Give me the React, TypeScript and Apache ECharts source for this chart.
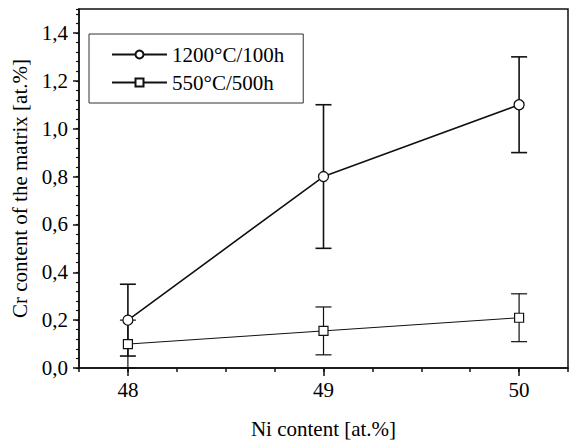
import React, { useEffect, useRef } from "react";
import * as echarts from "echarts";

const niContent = [48, 49, 50];
const seriesNames = ["1200°C/100h", "550°C/500h"];
const cr1200 = [0.2, 0.8, 1.1];
const cr1200Err = [0.15, 0.3, 0.2];
const cr550 = [0.1, 0.155, 0.21];
const cr550Err = [0.1, 0.1, 0.1];
const xTickLabels = [48, 49, 50];

const FONT = "'Liberation Serif', 'Times New Roman', serif";

export default function App() {
  const ref = useRef<HTMLDivElement>(null);
  useEffect(() => {
    document.body.style.margin = "0";
    const chart = echarts.init(ref.current!, undefined, { renderer: "svg" });
    const pts = (ys: number[]) => niContent.map((x, i) => [x, ys[i]]);
    const errs = (ys: number[], es: number[]) =>
      niContent.map((x, i) => [x, ys[i] - es[i], ys[i] + es[i]]);
    const errSeries = (name: string, data: number[][], width: number) => ({
      type: "custom",
      name: name + "-err",
      xAxisIndex: 0,
      yAxisIndex: 0,
      z: 1,
      silent: true,
      data,
      renderItem: (params: any, api: any) => {
        const x = api.value(0);
        const lo = api.coord([x, api.value(1)]);
        const hi = api.coord([x, api.value(2)]);
        const cw = 8;
        const st = { stroke: "#111", lineWidth: width };
        return {
          type: "group",
          children: [
            { type: "line", shape: { x1: lo[0], y1: lo[1], x2: hi[0], y2: hi[1] }, style: st },
            { type: "line", shape: { x1: lo[0] - cw, y1: lo[1], x2: lo[0] + cw, y2: lo[1] }, style: st },
            { type: "line", shape: { x1: hi[0] - cw, y1: hi[1], x2: hi[0] + cw, y2: hi[1] }, style: st },
          ],
        };
      },
    });
    const labelStyle = { fontFamily: FONT, fontSize: 21, color: "#000" };
    chart.setOption({
      animation: false,
      backgroundColor: "#fff",
      textStyle: { fontFamily: FONT },
      grid: {
        left: 79,
        right: 2,
        top: 9,
        bottom: 73,
        outerBoundsMode: "none",
        containLabel: false,
        show: true,
        borderColor: "#111",
        borderWidth: 1.5,
        backgroundColor: "transparent",
      },
      legend: {
        orient: "vertical",
        left: 89,
        top: 34,
        itemWidth: 55,
        itemHeight: 10,
        itemGap: 7,
        padding: [10, 19, 10, 22],
        borderColor: "#333",
        borderWidth: 1,
        textStyle: labelStyle,
        data: seriesNames,
      },
      xAxis: [
        {
          type: "value",
          min: 47.75,
          max: 50.25,
          interval: 0.25,
          name: "Ni content [at.%]",
          nameLocation: "middle",
          nameGap: 50,
          nameTextStyle: labelStyle,
          axisLine: { show: true, lineStyle: { color: "#111", width: 1.5 } },
          axisTick: { show: true, length: 4, lineStyle: { color: "#111", width: 1.5 } },
          axisLabel: {
            ...labelStyle,
            margin: 11,
            formatter: (v: number) => (xTickLabels.includes(Math.round(v * 100) / 100) ? String(v) : ""),
          },
          splitLine: { show: false },
        },
        {
          type: "value",
          position: "bottom",
          min: 47.75,
          max: 50.25,
          interval: 0.25,
          axisLine: { show: false },
          axisTick: { show: true, length: 8, customValues: xTickLabels, lineStyle: { color: "#111", width: 1.5 } },
          axisLabel: { show: false },
          splitLine: { show: false },
        },
      ],
      yAxis: [
        {
          type: "value",
          min: 0,
          max: 1.5,
          interval: 0.2,
          name: "Cr content of the matrix [at.%]",
          nameLocation: "middle",
          nameGap: 49,
          nameTextStyle: labelStyle,
          axisLine: { show: true, lineStyle: { color: "#111", width: 1.5 } },
          axisTick: { show: true, length: 6, lineStyle: { color: "#111", width: 1.5 } },
          axisLabel: {
            ...labelStyle,
            margin: 11,
            showMaxLabel: false,
            formatter: (v: number) => (v > 1.45 ? "" : v.toFixed(1).replace(".", ",")),
          },
          splitLine: { show: false },
        },
        {
          type: "value",
          position: "left",
          min: 0,
          max: 1.5,
          interval: 0.04,
          axisLine: { show: false },
          axisTick: { show: true, length: 3, lineStyle: { color: "#111", width: 1.2 } },
          axisLabel: { show: false },
          splitLine: { show: false },
        },
      ],
      series: [
        errSeries(seriesNames[0], errs(cr1200, cr1200Err), 1.6),
        errSeries(seriesNames[1], errs(cr550, cr550Err), 1.2),
        {
          type: "line",
          name: seriesNames[0],
          xAxisIndex: 0,
          yAxisIndex: 0,
          z: 3,
          data: pts(cr1200),
          symbol: "circle",
          symbolSize: 10,
          lineStyle: { color: "#111", width: 1.6 },
          itemStyle: { color: "#fff", borderColor: "#111", borderWidth: 1.3 },
        },
        {
          type: "line",
          name: seriesNames[1],
          xAxisIndex: 0,
          yAxisIndex: 0,
          z: 3,
          data: pts(cr550),
          symbol: "rect",
          symbolSize: 9,
          lineStyle: { color: "#111", width: 1 },
          itemStyle: { color: "#fff", borderColor: "#111", borderWidth: 1.2 },
        },
      ],
    });
    return () => chart.dispose();
  }, []);
  return <div ref={ref} style={{ width: 570, height: 441, position: "absolute", left: 0, top: 0 }} />;
}
